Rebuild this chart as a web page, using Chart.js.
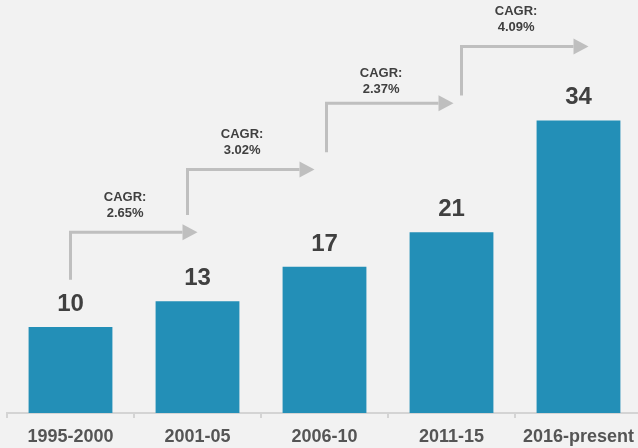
<!DOCTYPE html>
<html>
<head>
<meta charset="utf-8">
<script src="https://cdn.jsdelivr.net/npm/chart.js@4/dist/chart.umd.min.js"></script>
<style>
  html, body { margin: 0; padding: 0; background: #f2f2f2; overflow: hidden; }
  #wrap { width: 638px; height: 448px; overflow: hidden; position: relative; }
  canvas { position: absolute; left: 0; top: 0; }
</style>
</head>
<body>
<div id="wrap"><canvas id="chart" width="645" height="448"></canvas></div>
<script>
  const periods = ['1995-2000', '2001-05', '2006-10', '2011-15', '2016-present'];
  const values = [10, 13, 17, 21, 34];
  const cagrRates = ['2.65%', '3.02%', '2.37%', '4.09%'];

  // arrow layout, in y-axis units: where the stem starts and where the elbow runs
  const arrowStart = [15.5, 23.0, 30.3, 36.9];
  const arrowLevel = [21.0, 28.3, 36.0, 42.6];
  const arrowShift = [0, -10, 2, 10];
  const textDrop = [0, 0, 5, 0];

  const FONT = '"Liberation Sans", Arial, sans-serif';

  const annotate = {
    id: 'annotate',
    afterDatasetsDraw(chart) {
      const ctx = chart.ctx;
      const x = chart.scales.x;
      const y = chart.scales.y;
      const meta = chart.getDatasetMeta(0);

      ctx.save();
      // value labels
      ctx.fillStyle = '#404040';
      ctx.font = 'bold 24px ' + FONT;
      ctx.textAlign = 'center';
      ctx.textBaseline = 'alphabetic';
      meta.data.forEach((bar, i) => {
        ctx.fillText(String(values[i]), bar.x, bar.y - 16);
      });

      // CAGR elbow arrows
      cagrRates.forEach((rate, i) => {
        const x0 = x.getPixelForValue(i) + arrowShift[i];
        const x1 = x.getPixelForValue(i + 1) + arrowShift[i];
        const y0 = y.getPixelForValue(arrowStart[i]);
        const y1 = y.getPixelForValue(arrowLevel[i]);
        const head = 15;

        ctx.strokeStyle = '#bfbfbf';
        ctx.fillStyle = '#bfbfbf';
        ctx.lineWidth = 3;
        ctx.lineCap = 'butt';
        ctx.beginPath();
        ctx.moveTo(x0, y0);
        ctx.lineTo(x0, y1);
        ctx.lineTo(x1 - head, y1);
        ctx.stroke();
        ctx.beginPath();
        ctx.moveTo(x1 - head, y1 - 8);
        ctx.lineTo(x1, y1);
        ctx.lineTo(x1 - head, y1 + 8);
        ctx.closePath();
        ctx.fill();

        const tx = x0 + (x1 - x0) * 0.43;
        ctx.fillStyle = '#404040';
        ctx.font = 'bold 13px ' + FONT;
        ctx.textBaseline = 'middle';
        ctx.fillText('CAGR:', tx, y1 - 35 + textDrop[i]);
        ctx.fillText(rate, tx, y1 - 19 + textDrop[i]);
      });
      ctx.restore();
    }
  };

  new Chart(document.getElementById('chart').getContext('2d'), {
    type: 'bar',
    data: {
      labels: periods,
      datasets: [
        {
          data: values,
          backgroundColor: '#238fb7',
          borderWidth: 0,
          barPercentage: 0.66,
          categoryPercentage: 1,
        },
      ],
    },
    options: {
      responsive: false,
      animation: false,
      layout: { padding: { left: 7, right: 3, top: 0, bottom: 0 } },
      plugins: {
        legend: { display: false },
        tooltip: { enabled: false },
      },
      scales: {
        x: {
          offset: true,
          grid: {
            offset: true,
            drawOnChartArea: false,
            drawTicks: true,
            tickLength: 5,
            color: '#d4d4d4',
            lineWidth: 2,
          },
          border: { color: '#d4d4d4', width: 2 },
          ticks: {
            color: '#555555',
            font: { family: FONT, size: 18, weight: 'bold' },
            padding: 8,
            maxRotation: 0,
            autoSkip: false,
          },
          afterFit(scale) {
            scale.height = 35;
          },
        },
        y: {
          display: false,
          min: 0,
          max: 48,
        },
      },
    },
    plugins: [annotate],
  });
</script>
</body>
</html>
